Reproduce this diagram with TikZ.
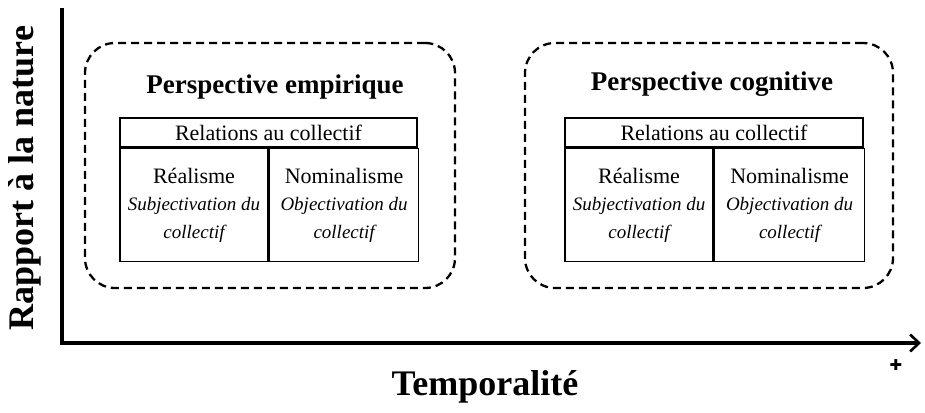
\documentclass[tikz,border=0pt]{standalone}
\usepackage{fontspec}
\setmainfont{Liberation Serif}
\newfontfamily\symfont{DejaVu Sans}
\usetikzlibrary{arrows.meta,positioning}

\newcommand{\lineit}[1]{{\fontsize{19}{27.5}\selectfont\itshape #1}}

\tikzset{
  persp/.style={draw, dash pattern=on 8pt off 5pt, line width=2.3pt, rounded corners=30pt, minimum height=245pt},
  ptitle/.style={font=\fontsize{27}{32}\selectfont\bfseries, anchor=base},
  hcell/.style={draw, line width=1.6pt, minimum height=29pt, inner sep=0pt, font=\fontsize{22}{26}\selectfont},
  cell/.style={draw, line width=1.6pt, minimum height=113pt, inner sep=0pt, align=center, anchor=north west, font=\fontsize{22}{27.5}\selectfont},
  axis/.style={line width=3.6pt, -{Straight Barb[length=9pt,width=17pt,line width=2.6pt]}},
  axislabel/.style={font=\fontsize{36}{40}\selectfont\bfseries}
}

\begin{document}
\begin{tikzpicture}[x=1pt, y=-1pt]
    \useasboundingbox (0,0) rectangle (925,412);
    % Axes
    \coordinate (ytop) at (62,8);
    \coordinate (origin) at (62,343);
    \coordinate (xtip) at (921,343);
    \draw[axis] (ytop) -- (origin) -- (xtip);
    \node[axislabel, rotate=90] (ylab) at (25,178) {Rapport à la nature};
    \node[axislabel] (xlab) at (485,387) {Temporalité};
    \node[font=\fontsize{15}{15}\selectfont\symfont] (plus) at (896,365) {✚};
    % Boxes
    \node[persp, minimum width=370pt] (empBox) at (270,165.5) {};
    \node[persp, minimum width=368pt] (cogBox) at (709,165.5) {};
    \node[ptitle] (empTitle) at (275,93) {Perspective empirique};
    \node[ptitle] (cogTitle) at (712,90) {Perspective cognitive};
    % Left table
    \node[hcell, minimum width=297pt] (empHead) at (268.5,132.5) {Relations au collectif};
    \node[cell, minimum width=148pt] (empReal) at (empHead.south west) {Réalisme\\ \lineit{Subjectivation du}\\ \lineit{collectif}};
    \node[cell, minimum width=149pt] (empNom) at (empReal.north east) {Nominalisme\\ \lineit{Objectivation du}\\ \lineit{collectif}};
    % Right table
    \node[hcell, minimum width=298pt] (cogHead) at (714,132.5) {Relations au collectif};
    \node[cell, minimum width=148pt] (cogReal) at (cogHead.south west) {Réalisme\\ \lineit{Subjectivation du}\\ \lineit{collectif}};
    \node[cell, minimum width=150pt] (cogNom) at (cogReal.north east) {Nominalisme\\ \lineit{Objectivation du}\\ \lineit{collectif}};
  \end{tikzpicture}
\end{document}
